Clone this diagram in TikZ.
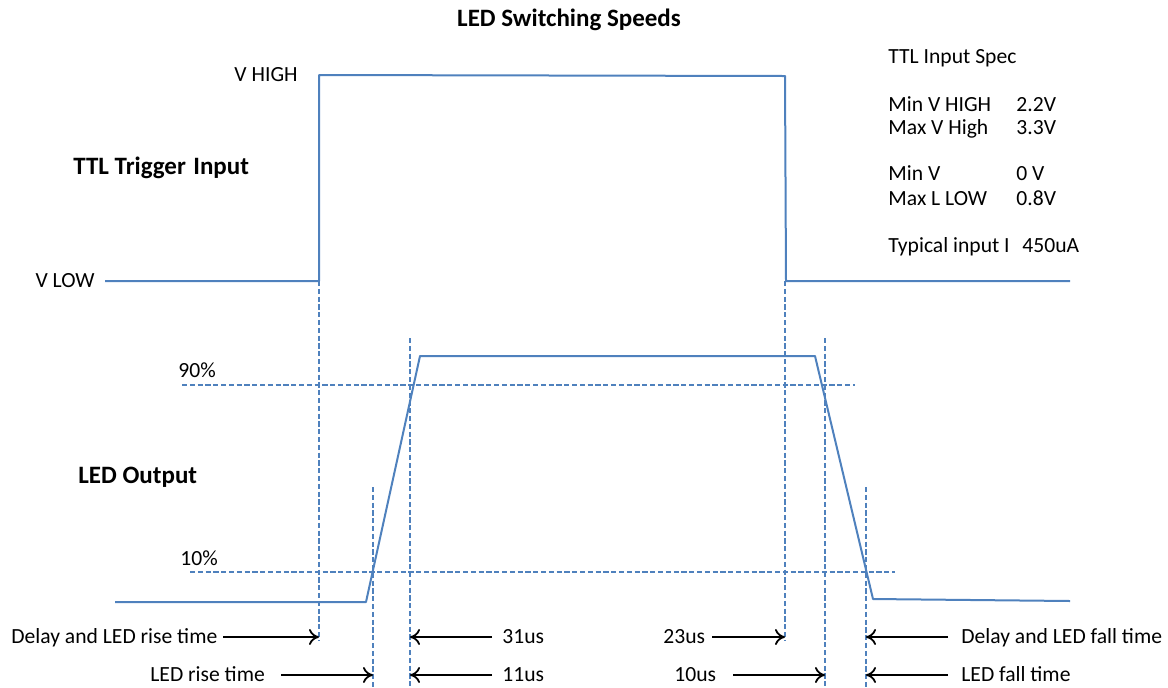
\documentclass[tikz,border=0pt]{standalone}
\usepackage{fontspec}
\setmainfont{Carlito}
\usetikzlibrary{arrows.meta}
\definecolor{wave}{RGB}{79,129,189}
\tikzset{
  sig/.style={wave, line width=1pt, line join=round},
  guide/.style={wave, line width=0.7pt, dash pattern=on 2.6pt off 1.3pt},
  arr/.style={-{To[length=5pt,width=8pt]}, line width=0.9pt},
  lbl/.style={anchor=west, inner sep=0pt, text height=0.64em, text depth=0pt,
    font=\fontsize{10.8}{12}\selectfont},
  head/.style={anchor=west, inner sep=0pt, text height=0.64em, text depth=0pt,
    font=\fontsize{12.5}{14}\selectfont\bfseries},
}
\begin{document}
\begin{tikzpicture}[x=0.5pt,y=-0.5pt]
\useasboundingbox (0,0) rectangle (1168,687);
\node[head,anchor=center] (title) at (569,20) {LED Switching Speeds};
\node[lbl,anchor=east] (vhigh) at (298,75) {V HIGH};
\node[lbl,anchor=east] (vlow) at (95,281) {V LOW};
\node[head] (ttl) at (73,168) {TTL Trigger\hspace{0.3em}Input};
\node[head] (led) at (78,477) {LED Output};
\node[lbl] (p90) at (178,371) {90\%};
\node[lbl] (p10) at (180,559) {10\%};
\node[lbl] (spec) at (888,57) {TTL Input Spec};
\node[lbl] (minh) at (888,105) {Min V HIGH};
\node[lbl] (minhv) at (1016,105) {2.2V};
\node[lbl] (maxh) at (888,128) {Max V High};
\node[lbl] (maxhv) at (1016,128) {3.3V};
\node[lbl] (minl) at (888,174) {Min V};
\node[lbl] (minlv) at (1016,174) {0 V};
\node[lbl] (maxl) at (888,199) {Max L LOW};
\node[lbl] (maxlv) at (1016,199) {0.8V};
\node[lbl] (typ) at (888,246) {Typical input I};
\node[lbl] (typv) at (1022,246) {450uA};
\draw[sig] (105,281) -- (319,281) -- (319,75) -- (785,76) -- (786,281) -- (1070,281);
\draw[sig] (115,602) -- (366,602) -- (420,356) -- (815,356) -- (873,599) -- (1070,601);
\draw[guide] (182,385) -- (855,385);
\draw[guide] (190,572) -- (895,572);
\coordinate (v1) at (319,281);
\coordinate (v2) at (373,487);
\coordinate (v3) at (410,338);
\coordinate (v4) at (785,281);
\coordinate (v5) at (825,338);
\coordinate (v6) at (866,487);
\draw[guide] (v1) -- (319,640);
\draw[guide] (v2) -- (373,687);
\draw[guide] (v3) -- (410,687);
\draw[guide] (v4) -- (785,640);
\draw[guide] (v5) -- (825,687);
\draw[guide] (v6) -- (866,687);
\node[lbl] (dlyrise) at (11,637) {Delay and LED rise time};
\node[lbl] (rise) at (150,675) {LED rise time};
\node[lbl] (t31) at (502,637) {31us};
\node[lbl] (t11) at (502,675) {11us};
\node[lbl] (t23) at (663,637) {23us};
\node[lbl] (t10) at (674,675) {10us};
\node[lbl] (dlyfall) at (961,637) {Delay and LED fall time};
\node[lbl] (fall) at (961,675) {LED fall time};
\coordinate (a1) at (223,637);
\coordinate (a2) at (281,675);
\coordinate (a3) at (492,637);
\coordinate (a4) at (492,675);
\coordinate (a5) at (712,637);
\coordinate (a6) at (733,675);
\coordinate (a7) at (948,637);
\coordinate (a8) at (948,675);
\draw[arr] (a1) -- (a1 -| v1);
\draw[arr] (a2) -- (a2 -| v2);
\draw[arr] (a3) -- (a3 -| v3);
\draw[arr] (a4) -- (a4 -| v3);
\draw[arr] (a5) -- (a5 -| v4);
\draw[arr] (a6) -- (a6 -| v5);
\draw[arr] (a7) -- (a7 -| v6);
\draw[arr] (a8) -- (a8 -| v6);
\end{tikzpicture}
\end{document}
